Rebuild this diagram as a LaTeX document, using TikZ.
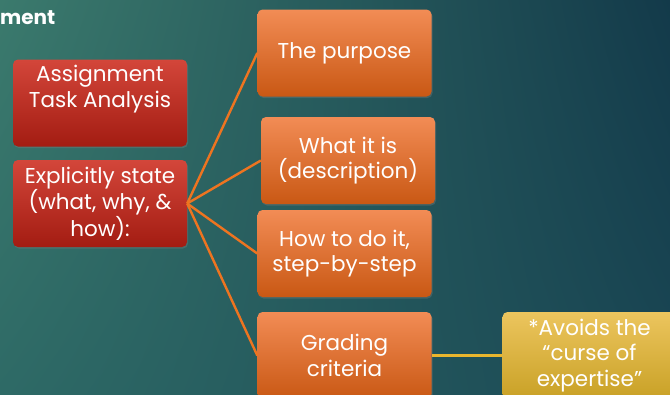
\documentclass[tikz,border=0pt]{standalone}
\usepackage{fontspec}
\setmainfont{Poppins}
\usetikzlibrary{shadows,shadings}
\definecolor{bgA}{HTML}{3B7A6D}
\definecolor{bgB}{HTML}{2E6A66}
\definecolor{bgC}{HTML}{133A4A}
\definecolor{bgD}{HTML}{1A4754}
\definecolor{redT}{HTML}{D3463A}
\definecolor{redB}{HTML}{A31C12}
\definecolor{orT}{HTML}{F28C55}
\definecolor{orB}{HTML}{C95814}
\definecolor{yeT}{HTML}{ECC55E}
\definecolor{yeB}{HTML}{C9A126}
\definecolor{spokecol}{HTML}{EE7420}
\definecolor{goldcol}{HTML}{E9B62E}
\tikzset{
  x=1pt, y=-1pt,
  box/.style={rounded corners=5pt, minimum width=174pt, minimum height=87pt,
    align=center, text=white, inner sep=2pt,
    font=\fontsize{21.5}{25.5}\selectfont,
    drop shadow={shadow xshift=1pt, shadow yshift=-1.5pt, opacity=0.35}},
  redbox/.style={box, top color=redT, bottom color=redB},
  orbox/.style={box, top color=orT, bottom color=orB},
  yebox/.style={box, top color=yeT, bottom color=yeB},
  spoke/.style={draw=spokecol, line width=2.4pt},
  goldspoke/.style={draw=goldcol, line width=2.4pt},
}
\begin{document}
\begin{tikzpicture}
  \useasboundingbox (0,0) rectangle (670,394);
  \clip (0,0) rectangle (670,394);
  % background
  \shade[upper left=bgA, lower left=bgB, upper right=bgC, lower right=bgD]
    (0,0) rectangle (670,394);
  % title tail
  \node[anchor=base west, text=white, inner sep=0pt,
    font=\fontsize{20}{24}\bfseries\selectfont] (title) at (0,24) {ment};
  % left column
  \node[redbox] (ata) at (100,103) {Assignment\\Task Analysis\\\strut};
  \node[redbox] (state) at (100,203.5) {Explicitly state\\(what, why, \&\\how):};
  % right column
  \node[orbox] (purpose) at (344.5,53) {The purpose};
  \node[orbox] (what) at (348,160.5) {What it is\\(description)};
  \node[orbox] (how) at (344.5,253.5) {How to do it,\\step-by-step};
  \node[orbox] (grade) at (344.5,355.5) {Grading\\criteria};
  \node[yebox] (curse) at (589.5,355.5) {*Avoids the\\“curse of\\expertise”};
  % connectors
  \coordinate (hub) at (state.east);
  \foreach \t in {purpose, what, how, grade}
    \draw[spoke] (hub) -- (\t.west);
  \draw[goldspoke] (grade.east) -- (curse.west);
\end{tikzpicture}
\end{document}
